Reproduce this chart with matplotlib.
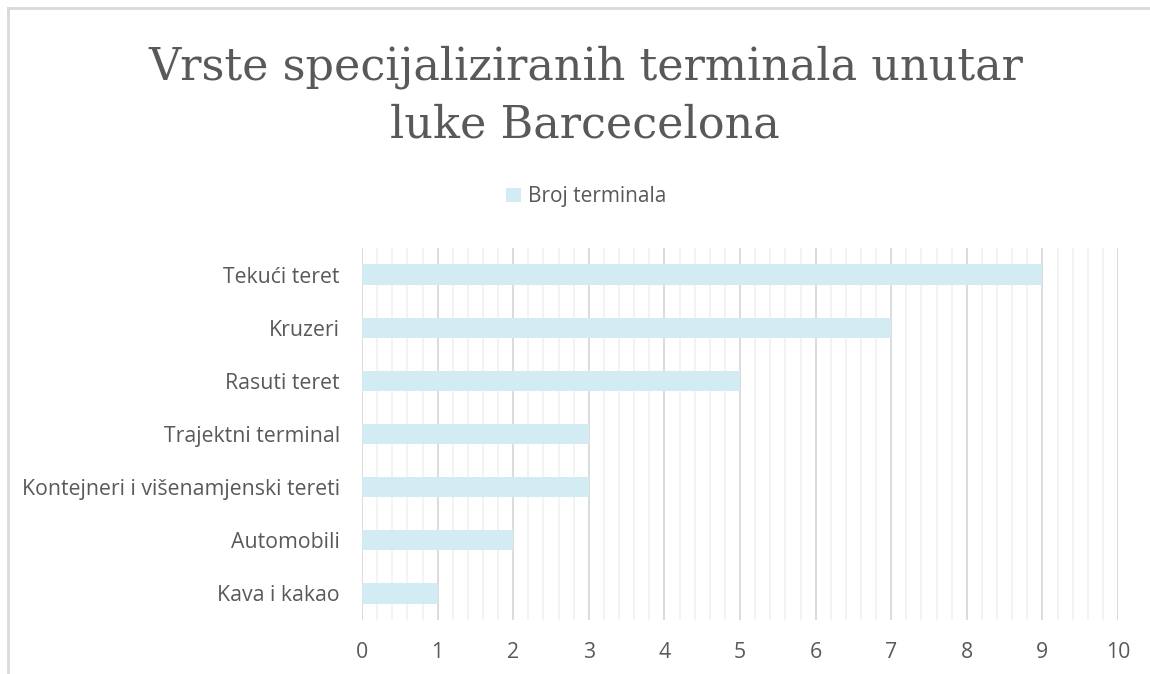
import matplotlib.pyplot as plt
from matplotlib.lines import Line2D
from matplotlib.ticker import MultipleLocator

# data (bottom to top as drawn)
categories = ["Kava i kakao", "Automobili", "Kontejneri i višenamjenski tereti",
              "Trajektni terminal", "Rasuti teret", "Kruzeri", "Tekući teret"]
values = [1, 2, 3, 3, 5, 7, 9]
series_name = "Broj terminala"
title = "Vrste specijaliziranih terminala unutar\nluke Barcecelona"

txt = "#595959"
bar_col = "#D3ECF3"

fig = plt.figure(figsize=(11.5, 6.74), dpi=100)
ax = fig.add_axes([0.3148, 0.0801, 0.6574, 0.552])

ax.barh(range(len(categories)), values, height=0.38, color=bar_col, zorder=3,
        label=series_name)
ax.set_xlim(0, 10)
ax.set_ylim(-0.5, len(categories) - 0.5)
ax.set_yticks(range(len(categories)))
ax.set_yticklabels(categories)
ax.xaxis.set_major_locator(MultipleLocator(1))
ax.xaxis.set_minor_locator(MultipleLocator(0.2))
ax.grid(axis="x", which="major", color="#D9D9D9", lw=1.3, zorder=0)
ax.grid(axis="x", which="minor", color="#F2F2F2", lw=1.3, zorder=0)
for s in ax.spines.values():
    s.set_visible(False)
ax.tick_params(which="both", length=0)
ax.tick_params(axis="y", pad=16)
ax.tick_params(axis="x", pad=16)
for lab in ax.get_xticklabels() + ax.get_yticklabels():
    lab.set_fontfamily("Open Sans")
    lab.set_fontsize(15.3)
    lab.set_color(txt)

fig.text(0.509, 0.857, title, ha="center", va="center", fontsize=32,
         family="DejaVu Serif", color=txt, linespacing=1.42)

leg = fig.legend(loc="center", bbox_to_anchor=(0.51, 0.708), frameon=False,
                 handlelength=0.7, handleheight=0.7, handletextpad=0.35,
                 prop={"family": "Open Sans", "size": 15})
for t in leg.get_texts():
    t.set_color(txt)

# chart border (top and left visible)
fig.add_artist(Line2D([0.007, 1.0], [0.988, 0.988], color="#D9D9D9", lw=2,
                      transform=fig.transFigure))
fig.add_artist(Line2D([0.007, 0.007], [0.0, 0.988], color="#D9D9D9", lw=2,
                      transform=fig.transFigure))

fig.savefig("out.png", dpi=100)
